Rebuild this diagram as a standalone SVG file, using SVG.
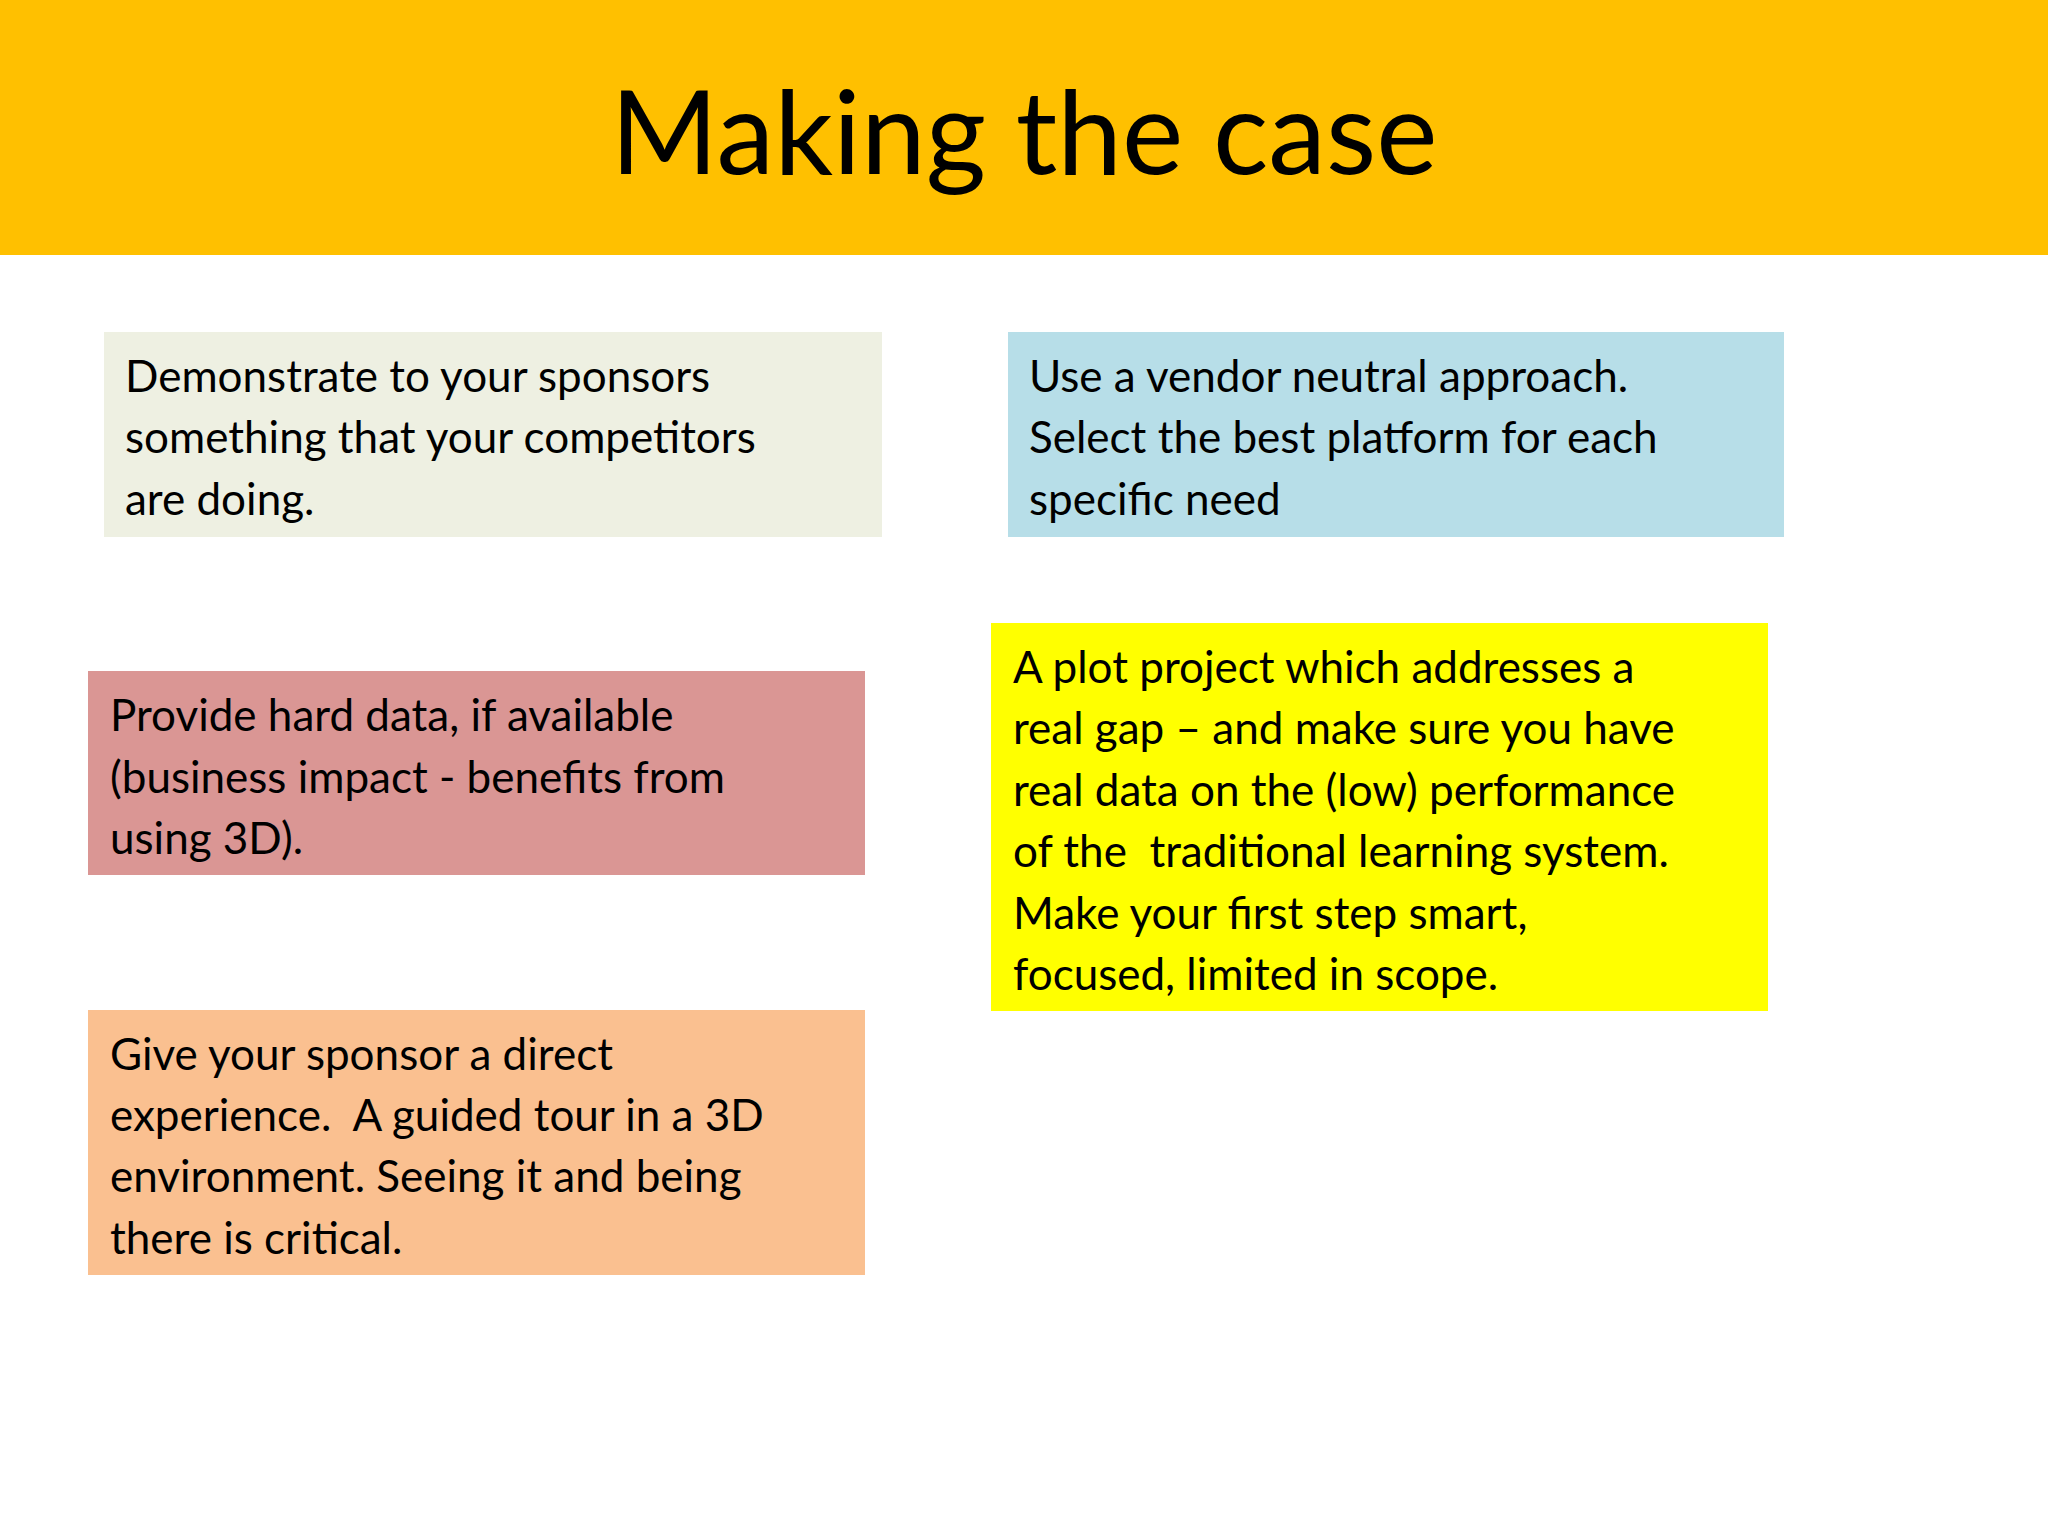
<svg xmlns="http://www.w3.org/2000/svg" width="2048" height="1536" viewBox="0 0 2048 1536">
<style>
.t{font-family:Lato,"Open Sans","Liberation Sans",sans-serif;font-size:44px;fill:#000}
</style>
<rect width="2048" height="1536" fill="#fff"/>
<g id="header"><rect x="0" y="0" width="2048" height="255" fill="#FFC000"/>
<text x="1024" y="174" text-anchor="middle" font-family="Lato,'Open Sans',sans-serif" font-size="116" fill="#000">Making the case</text></g>
<g id="n1"><rect x="104" y="332" width="778" height="205" fill="#EEF0E2"/>
<text class="t" x="125" y="392">Demonstrate to your sponsors</text>
<text class="t" x="125" y="453">something that your competitors</text>
<text class="t" x="125" y="515">are doing.</text></g>
<g id="n2"><rect x="1008" y="332" width="776" height="205" fill="#B7DEE8"/>
<text class="t" x="1029" y="392">Use a vendor neutral approach.</text>
<text class="t" x="1029" y="453">Select the best platform for each</text>
<text class="t" x="1029" y="515">specific need</text></g>
<g id="n3"><rect x="88" y="671" width="777" height="204" fill="#DA9694"/>
<text class="t" x="110" y="731">Provide hard data, if available</text>
<text class="t" x="110" y="793">(business impact - benefits from</text>
<text class="t" x="110" y="854">using 3D).</text></g>
<g id="n4"><rect x="991" y="623" width="777" height="388" fill="#FFFF00"/>
<text class="t" x="1013" y="683">A plot project which addresses a</text>
<text class="t" x="1013" y="744">real gap – and make sure you have</text>
<text class="t" x="1013" y="806">real data on the (low) performance</text>
<text class="t" x="1013" y="867" xml:space="preserve">of the  traditional learning system.</text>
<text class="t" x="1013" y="929">Make your first step smart,</text>
<text class="t" x="1013" y="990">focused, limited in scope.</text></g>
<g id="n5"><rect x="88" y="1010" width="777" height="265" fill="#FAC090"/>
<text class="t" x="110" y="1070">Give your sponsor a direct</text>
<text class="t" x="110" y="1131" xml:space="preserve">experience.  A guided tour in a 3D</text>
<text class="t" x="110" y="1192">environment. Seeing it and being</text>
<text class="t" x="110" y="1254">there is critical.</text></g>
<g id="connectors"/>
</svg>
